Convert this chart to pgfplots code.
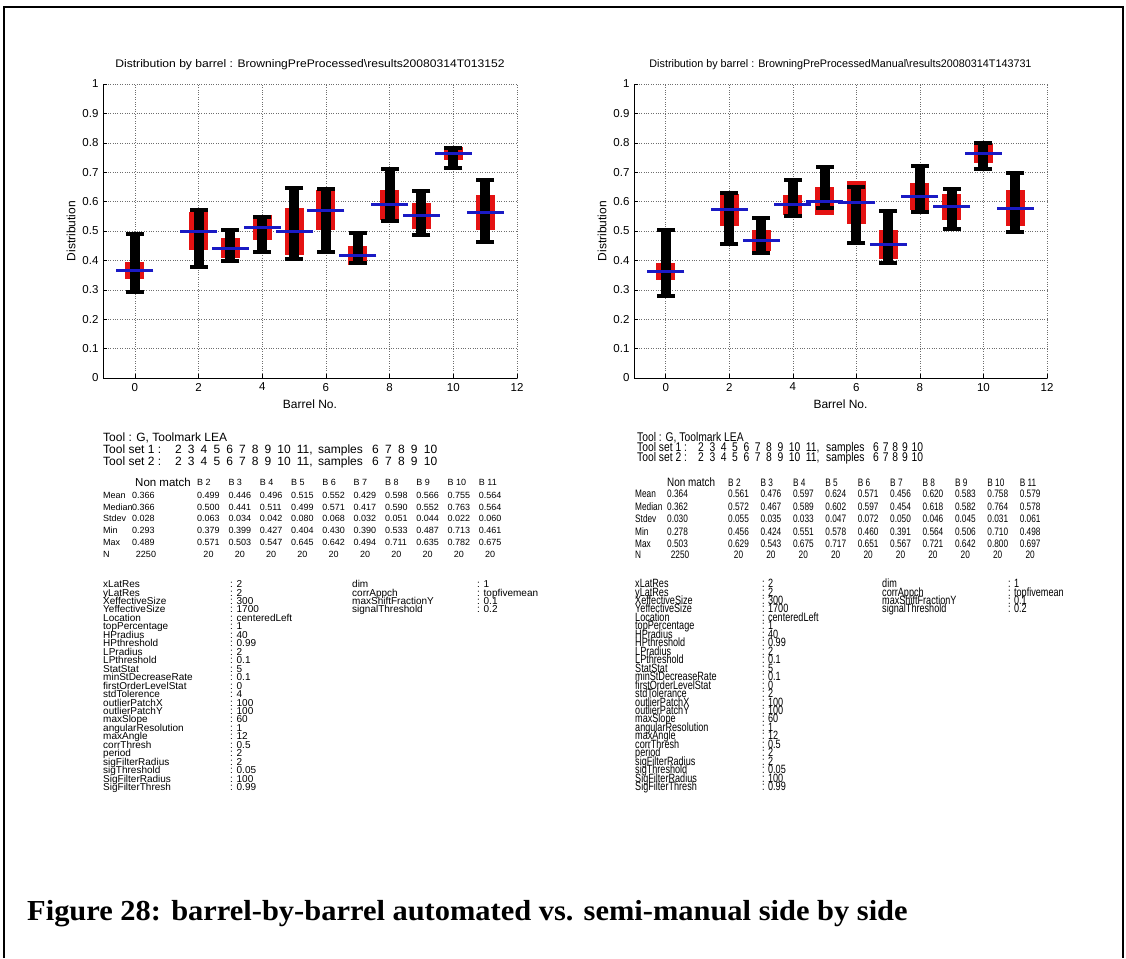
\documentclass[border=0pt]{standalone}
\usepackage{pgfplots}
\pgfplotsset{compat=1.18}
\usepackage{pgfplotstable}
\usepackage{graphicx}
\usepackage{fontspec}
\setmainfont{Liberation Sans}
\newfontfamily\capfont{Liberation Serif}

\definecolor{boxred}{RGB}{228,18,18}
\definecolor{medblue}{RGB}{26,26,196}
\definecolor{gridgray}{RGB}{110,110,110}

% barrel position, mean, median, stdev, min, max, number of scores
\pgfplotstableread{
x  mean  median std   min   max   n
0  0.366 0.366  0.028 0.293 0.489 2250
2  0.499 0.500  0.063 0.379 0.571 20
3  0.446 0.441  0.034 0.399 0.503 20
4  0.496 0.511  0.042 0.427 0.547 20
5  0.515 0.499  0.080 0.404 0.645 20
6  0.552 0.571  0.068 0.430 0.642 20
7  0.429 0.417  0.032 0.390 0.494 20
8  0.598 0.590  0.051 0.533 0.711 20
9  0.566 0.552  0.044 0.487 0.635 20
10 0.755 0.763  0.022 0.713 0.782 20
11 0.564 0.564  0.060 0.461 0.675 20
}\statsauto

\pgfplotstableread{
x  mean  median std   min   max   n
0  0.364 0.362  0.030 0.278 0.503 2250
2  0.561 0.572  0.055 0.456 0.629 20
3  0.476 0.467  0.035 0.424 0.543 20
4  0.597 0.589  0.033 0.551 0.675 20
5  0.624 0.602  0.047 0.578 0.717 20
6  0.571 0.597  0.072 0.460 0.651 20
7  0.456 0.454  0.050 0.391 0.567 20
8  0.620 0.618  0.046 0.564 0.721 20
9  0.583 0.582  0.045 0.506 0.642 20
10 0.758 0.764  0.031 0.710 0.800 20
11 0.579 0.578  0.061 0.498 0.697 20
}\statsmanual

\pgfplotsset{
  barrelaxis/.style={
    anchor=south west, scale only axis, height=294pt,
    xmin=-1, xmax=12, ymin=0, ymax=1,
    xtick={0,2,4,6,8,10,12},
    ytick={0,0.1,0.2,0.3,0.4,0.5,0.6,0.7,0.8,0.9,1},
    axis x line*=bottom, axis y line*=left,
    axis line style={-, line width=0.8pt},
    tick align=inside, major tick length=4pt,
    tick style={black, line width=0.6pt},
    grid=major,
    major grid style={gridgray, dotted, line width=0.6pt},
    /pgf/number format/assume math mode=true,
    ticklabel style={font=\fontsize{11.5}{11.5}\selectfont},
    yticklabel style={xshift=-1pt},
    xticklabel style={yshift=-1.5pt},
    label style={font=\fontsize{12}{12}\selectfont},
    xlabel={Barrel No.}, ylabel={Distribution},
    x label style={at={(axis description cs:0.5,-0.0884)}, anchor=center},
    y label style={at={(axis description cs:-0.0773,0.5)}, anchor=center},
    title style={at={(axis description cs:0.5,1.0442)}, anchor=center,
      font=\fontsize{11}{11}\selectfont},
  },
}

% range bar (min to max) over a box of median +- stdev, median as a blue line
\newcommand\barrelplots[1]{%
  \addplot[draw=none, mark=none, forget plot,
    error bars/.cd, y dir=both, y explicit, error mark=none,
    error bar style={draw=boxred, solid, line width=19pt}]
    table[x=x, y=median, y error=std]{#1};
  \addplot[draw=none, mark=none, forget plot,
    error bars/.cd, y dir=both, y explicit, error mark=none,
    error bar style={draw=black, solid, line width=10pt}]
    table[x=x, y=median,
      y error plus expr=\thisrow{max}-\thisrow{median},
      y error minus expr=\thisrow{median}-\thisrow{min}]{#1};
  \addplot[only marks, mark=-, mark size=9pt, forget plot,
    mark options={draw=black, solid, line width=4pt}]
    table[x=x, y=min]{#1};
  \addplot[only marks, mark=-, mark size=9pt, forget plot,
    mark options={draw=black, solid, line width=4pt}]
    table[x=x, y=max]{#1};
  \addplot[only marks, mark=-, mark size=18.5pt, forget plot,
    mark options={draw=medblue, solid, line width=3pt}]
    table[x=x, y=median]{#1};
}

% one row of the statistics table: table, column, baseline, x of non-match, x of B 2, step, wrapper
\newcommand\statline[7]{%
  \pgfplotstablegetelem{0}{#2}\of#1%
  \node[anchor=base west] at (#4,#3) {#7{\pgfplotsretval}};
  \foreach \r in {1,...,10}{%
    \pgfplotstablegetelem{\r}{#2}\of#1%
    \node[anchor=base west] at ({#5+(\r-1)*#6},#3) {#7{\pgfplotsretval}};
  }%
}
% counts, centred in their columns
\newcommand\countline[7]{%
  \pgfplotstablegetelem{0}{#2}\of#1%
  \node[anchor=base] at (#4,#3) {#7{\pgfplotsretval}};
  \foreach \r in {1,...,10}{%
    \pgfplotstablegetelem{\r}{#2}\of#1%
    \node[anchor=base] at ({#5+(\r-1)*#6},#3) {#7{\pgfplotsretval}};
  }%
}
\newcommand\headline[5]{% baseline, x of B 2, step, wrapper, font
  \foreach \r in {2,...,11}{%
    \node[anchor=base west, font=#5] at ({#2+(\r-2)*#3},#1) {#4{B \r}};
  }%
}
\newcommand\toolrow[1]{2\hspace{#1}3\hspace{#1}4\hspace{#1}5\hspace{#1}6\hspace{#1}7\hspace{#1}8\hspace{#1}9\hspace{#1}10\hspace{#1}11,}
\newcommand\samplerow[1]{6\hspace{#1}7\hspace{#1}8\hspace{#1}9\hspace{#1}10}

\newcommand\cellA[1]{#1}
\newcommand\cellB[1]{\scalebox{0.92}[1.2]{#1}}
\newcommand\headA[1]{#1}
\newcommand\headB[1]{\scalebox{0.86}[1.05]{#1}}
\newcommand\parA[1]{#1}
\newcommand\parB[1]{\scalebox{0.91}[1.2]{#1}}

\begin{document}
\begin{tikzpicture}
\useasboundingbox (0pt,0pt) rectangle (1126pt,-958pt);
\draw[line width=2pt] (3.5pt,-958pt) -- (3.5pt,-7.3pt) -- (1122.5pt,-7.3pt) -- (1122.5pt,-958pt);

\begin{axis}[barrelaxis, at={(103pt,-378pt)}, width=414pt,
  title={\scalebox{1.1}[1]{Distribution by barrel : BrowningPreProcessed\textbackslash results20080314T013152}}]
  \barrelplots{\statsauto}
\end{axis}

\begin{axis}[barrelaxis, at={(634pt,-378pt)}, width=413pt,
  title={\scalebox{0.98}[1]{Distribution by barrel : BrowningPreProcessedManual\textbackslash results20080314T143731}}]
  \barrelplots{\statsmanual}
\end{axis}

\begin{scope}[x=1pt, y=-1pt, inner sep=0pt]
  % ---- automated run ----
  \begin{scope}[font=\fontsize{12}{12}\selectfont]
    \node[anchor=base west] at (103,441) {Tool : G, Toolmark LEA};
    \node[anchor=base west] at (103,453) {Tool set 1 :};
    \node[anchor=base west] at (175,453) {\toolrow{6.1pt}};
    \node[anchor=base west] at (318,453) {samples};
    \node[anchor=base west] at (372,453) {\samplerow{6.25pt}};
    \node[anchor=base west] at (103,465) {Tool set 2 :};
    \node[anchor=base west] at (175,465) {\toolrow{6.1pt}};
    \node[anchor=base west] at (318,465) {samples};
    \node[anchor=base west] at (372,465) {\samplerow{6.25pt}};
    \node[anchor=base west, font=\fontsize{11.5}{11.5}\selectfont] at (135,486) {Non match};
  \end{scope}
  \begin{scope}[font=\fontsize{9}{9}\selectfont]
    \headline{485}{197}{31.3}{\headA}{\fontsize{9}{9}\selectfont}
    \node[anchor=base west] at (103,498) {Mean};
    \node[anchor=base west] at (103,510) {Median};
    \node[anchor=base west] at (103,521) {Stdev};
    \node[anchor=base west] at (103,533) {Min};
    \node[anchor=base west] at (103,545) {Max};
    \node[anchor=base west] at (103,557) {N};
    \statline{\statsauto}{mean}{498}{132}{197}{31.3}{\cellA}
    \statline{\statsauto}{median}{510}{132}{197}{31.3}{\cellA}
    \statline{\statsauto}{std}{521}{132}{197}{31.3}{\cellA}
    \statline{\statsauto}{min}{533}{132}{197}{31.3}{\cellA}
    \statline{\statsauto}{max}{545}{132}{197}{31.3}{\cellA}
    \countline{\statsauto}{n}{557}{146}{208.5}{31.3}{\cellA}
  \end{scope}
  \begin{scope}[font=\fontsize{10}{10}\selectfont]
    \foreach \k/\v [count=\i from 0] in {xLatRes/2, yLatRes/2, XeffectiveSize/300,
      YeffectiveSize/1700, Location/centeredLeft, topPercentage/1, HPradius/40,
      HPthreshold/0.99, LPradius/2, LPthreshold/0.1, StatStat/5,
      minStDecreaseRate/0.1, firstOrderLevelStat/0, stdTolerence/4,
      outlierPatchX/100, outlierPatchY/100, maxSlope/60, angularResolution/1,
      maxAngle/12, corrThresh/0.5, period/2, sigFilterRadius/2,
      sigThreshold/0.05, SigFilterRadius/100, SigFilterThresh/0.99}{
      \node[anchor=base west] at (103,{587.6+\i*8.46}) {\parA{\k}};
      \node[anchor=base west] at (230,{587.6+\i*8.46}) {\parA{: \v}};
    }
    \foreach \k/\v [count=\i from 0] in {dim/1, corrAppch/topfivemean,
      maxShiftFractionY/0.1, signalThreshold/0.2}{
      \node[anchor=base west] at (352,{587.6+\i*8.46}) {\parA{\k}};
      \node[anchor=base west] at (477,{587.6+\i*8.46}) {\parA{: \v}};
    }
  \end{scope}

  % ---- semi-manual run ----
  \begin{scope}[font=\fontsize{12}{12}\selectfont]
    \node[anchor=base west] at (637,441) {\headB{Tool : G, Toolmark LEA}};
    \node[anchor=base west] at (637,451.5) {\headB{Tool set 1 :}};
    \node[anchor=base west] at (698,451.5) {\headB{\toolrow{6.5pt}}};
    \node[anchor=base west] at (826,451.5) {\headB{samples}};
    \node[anchor=base west] at (873,451.5) {\headB{\samplerow{4.5pt}}};
    \node[anchor=base west] at (637,461) {\headB{Tool set 2 :}};
    \node[anchor=base west] at (698,461) {\headB{\toolrow{6.5pt}}};
    \node[anchor=base west] at (826,461) {\headB{samples}};
    \node[anchor=base west] at (873,461) {\headB{\samplerow{4.5pt}}};
    \node[anchor=base west, font=\fontsize{11.5}{11.5}\selectfont] at (667,486) {\headB{Non match}};
  \end{scope}
  \begin{scope}[font=\fontsize{9}{9}\selectfont]
    \headline{486}{728}{32.4}{\cellB}{\fontsize{9}{9}\selectfont}
    \node[anchor=base west] at (635,497) {\cellB{Mean}};
    \node[anchor=base west] at (635,510) {\cellB{Median}};
    \node[anchor=base west] at (635,522) {\cellB{Stdev}};
    \node[anchor=base west] at (635,535) {\cellB{Min}};
    \node[anchor=base west] at (635,547) {\cellB{Max}};
    \node[anchor=base west] at (635,558) {\cellB{N}};
    \statline{\statsmanual}{mean}{497}{667}{728}{32.4}{\cellB}
    \statline{\statsmanual}{median}{510}{667}{728}{32.4}{\cellB}
    \statline{\statsmanual}{std}{522}{667}{728}{32.4}{\cellB}
    \statline{\statsmanual}{min}{535}{667}{728}{32.4}{\cellB}
    \statline{\statsmanual}{max}{547}{667}{728}{32.4}{\cellB}
    \countline{\statsmanual}{n}{558}{680}{738.5}{32.4}{\cellB}
  \end{scope}
  \begin{scope}[font=\fontsize{10}{10}\selectfont]
    \foreach \k/\v [count=\i from 0] in {xLatRes/2, yLatRes/2, XeffectiveSize/300,
      YeffectiveSize/1700, Location/centeredLeft, topPercentage/1, HPradius/40,
      HPthreshold/0.99, LPradius/2, LPthreshold/0.1, StatStat/5,
      minStDecreaseRate/0.1, firstOrderLevelStat/0, stdTolerance/2,
      outlierPatchX/100, outlierPatchY/100, maxSlope/60, angularResolution/1,
      maxAngle/12, corrThresh/0.5, period/2, sigFilterRadius/2,
      sigThreshold/0.05, SigFilterRadius/100, SigFilterThresh/0.99}{
      \node[anchor=base west] at (635,{587.6+\i*8.46}) {\parB{\k}};
      \node[anchor=base west] at (762,{587.6+\i*8.46}) {\parB{: \v}};
    }
    \foreach \k/\v [count=\i from 0] in {dim/1, corrAppch/topfivemean,
      maxShiftFractionY/0.1, signalThreshold/0.2}{
      \node[anchor=base west] at (882,{587.6+\i*8.46}) {\parB{\k}};
      \node[anchor=base west] at (1008,{587.6+\i*8.46}) {\parB{: \v}};
    }
  \end{scope}

  \node[anchor=base west, font=\capfont\bfseries\fontsize{29}{29}\selectfont]
    at (27,920) {\scalebox{1.05}[1]{Figure 28: barrel-by-barrel automated vs. semi-manual side by side}};
\end{scope}
\end{tikzpicture}
\end{document}
